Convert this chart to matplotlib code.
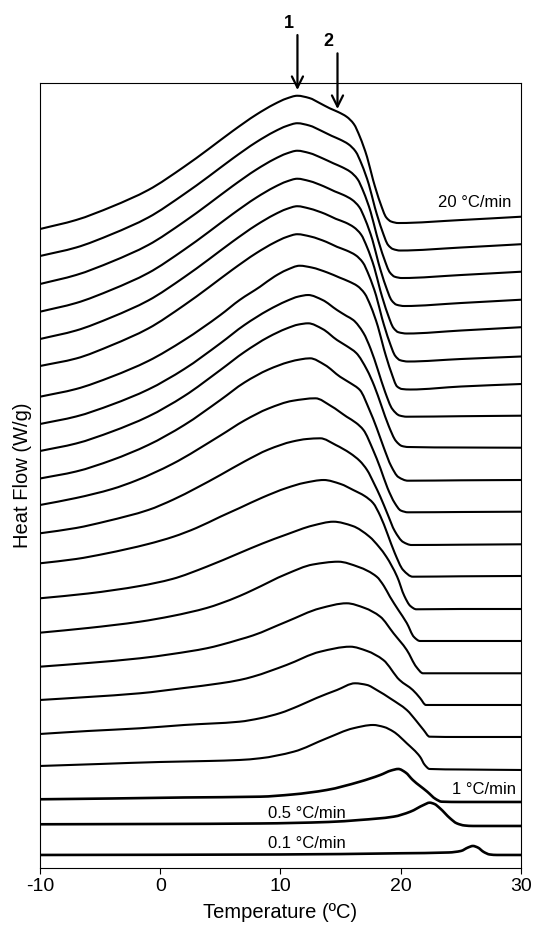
import numpy as np
import matplotlib
matplotlib.use("Agg")
import matplotlib.pyplot as plt
from matplotlib.path import Path
from matplotlib.patches import PathPatch

# DSC heating curves, stacked: (temperature degC, heat flow, arb. units)
rates = [20, 19, 18, 17, 16, 15, 14, 13, 12, 11, 10, 9, 8, 7, 6, 5, 4, 3, 2, 1, 0.5, 0.1]

hf_20 = [(-10, 6.39), (-7, 6.48), (-4, 6.615), (-1, 6.78), (2, 7.014), (4, 7.188), (6, 7.368),
         (8, 7.535), (9.5, 7.64), (10.5, 7.695), (11.4, 7.723), (12.4, 7.70), (13.3, 7.647),
         (14.1, 7.597), (14.8, 7.56), (15.5, 7.513), (16.1, 7.44), (16.6, 7.313), (17.2, 7.11),
         (17.7, 6.88), (18.3, 6.65), (18.8, 6.505), (19.2, 6.465), (19.8, 6.45), (25, 6.48), (30, 6.513)]
hf_19 = [(-10, 6.12), (-7, 6.205), (-4, 6.34), (-1, 6.505), (2, 6.74), (4, 6.913), (6, 7.093),
         (8, 7.26), (9.5, 7.365), (10.5, 7.42), (11.4, 7.448), (12.4, 7.425), (13.4, 7.372),
         (14.25, 7.322), (14.95, 7.285), (15.65, 7.238), (16.25, 7.165), (16.75, 7.038), (17.35, 6.835),
         (17.85, 6.605), (18.45, 6.375), (18.95, 6.23), (19.35, 6.19), (19.95, 6.175), (25, 6.205), (30, 6.238)]
hf_18 = [(-10, 5.84), (-7, 5.93), (-4, 6.065), (-1, 6.23), (2, 6.464), (4, 6.638), (6, 6.818),
         (8, 6.985), (9.5, 7.09), (10.5, 7.145), (11.4, 7.173), (12.4, 7.15), (13.5, 7.097),
         (14.4, 7.047), (15.1, 7.01), (15.8, 6.963), (16.4, 6.89), (16.9, 6.763), (17.5, 6.56),
         (18.0, 6.33), (18.6, 6.10), (19.1, 5.955), (19.5, 5.913), (20.1, 5.90), (25, 5.93), (30, 5.963)]
hf_17 = [(-10, 5.563), (-7, 5.65), (-4, 5.785), (-1, 5.95), (2, 6.184), (4, 6.358), (6, 6.538),
         (8, 6.705), (9.5, 6.81), (10.5, 6.865), (11.4, 6.893), (12.4, 6.87), (13.6, 6.817),
         (14.5, 6.767), (15.25, 6.73), (15.95, 6.683), (16.55, 6.61), (17.05, 6.483), (17.65, 6.28),
         (18.15, 6.05), (18.75, 5.82), (19.25, 5.675), (19.65, 5.633), (20.3, 5.62), (25, 5.65), (30, 5.683)]
hf_16 = [(-10, 5.29), (-7, 5.375), (-4, 5.51), (-1, 5.675), (2, 5.909), (4, 6.083), (6, 6.263),
         (8, 6.43), (9.5, 6.535), (10.5, 6.59), (11.4, 6.618), (12.4, 6.595), (13.7, 6.542),
         (14.6, 6.492), (15.4, 6.455), (16.1, 6.408), (16.7, 6.335), (17.2, 6.208), (17.8, 6.005),
         (18.3, 5.775), (18.9, 5.545), (19.4, 5.40), (19.8, 5.358), (20.5, 5.345), (25, 5.375), (30, 5.408)]
hf_15 = [(-10, 5.02), (-7, 5.095), (-4, 5.23), (-1, 5.395), (2, 5.629), (4, 5.803), (6, 5.983),
         (8, 6.15), (9.5, 6.255), (10.5, 6.31), (11.4, 6.338), (12.5, 6.315), (13.8, 6.262),
         (14.7, 6.212), (15.5, 6.175), (16.25, 6.128), (16.85, 6.055), (17.35, 5.928), (17.95, 5.725),
         (18.45, 5.495), (19.05, 5.265), (19.55, 5.12), (19.95, 5.078), (20.6, 5.065), (25, 5.09), (30, 5.115)]
hf_14 = [(-10, 4.713), (-7, 4.79), (-4, 4.915), (-1, 5.07), (2, 5.28), (5, 5.53), (6.6, 5.68),
         (8.3, 5.813), (9.5, 5.915), (10.5, 5.98), (11.6, 6.023), (12.6, 6.005), (13.9, 5.955),
         (14.9, 5.905), (15.7, 5.865), (16.4, 5.82), (17.0, 5.745), (17.5, 5.62), (18.1, 5.415),
         (18.6, 5.19), (19.2, 4.96), (19.7, 4.815), (20.1, 4.79), (20.8, 4.785), (25, 4.815), (30, 4.84)]
hf_13 = [(-10, 4.44), (-7, 4.515), (-4, 4.635), (-1, 4.785), (2, 4.99), (5, 5.247), (7, 5.43),
         (9, 5.58), (10.5, 5.67), (11.5, 5.715), (12.3, 5.73), (13.5, 5.68), (14.7, 5.58),
         (15.5, 5.52), (16.05, 5.48), (16.9, 5.35), (17.5, 5.19), (18.1, 4.98), (18.7, 4.76),
         (19.3, 4.59), (19.9, 4.525), (20.5, 4.513), (25, 4.518), (30, 4.523)]
hf_12 = [(-10, 4.17), (-7, 4.245), (-4, 4.365), (-1, 4.515), (2, 4.72), (5, 4.98), (7, 5.16),
         (9, 5.31), (10.5, 5.395), (11.5, 5.435), (12.3, 5.447), (13.5, 5.39), (14.7, 5.28),
         (15.5, 5.22), (16.3, 5.15), (17.2, 4.98), (17.8, 4.82), (18.4, 4.62), (19.0, 4.42),
         (19.6, 4.27), (20.1, 4.22), (20.6, 4.21), (25, 4.205), (30, 4.203)]
hf_11 = [(-10, 3.895), (-7, 3.965), (-4, 4.08), (-1, 4.23), (2, 4.43), (5, 4.68), (7, 4.855),
         (9, 4.985), (10.7, 5.06), (11.7, 5.087), (12.45, 5.097), (13.7, 5.03), (14.95, 4.913),
         (15.8, 4.85), (16.6, 4.78), (17.4, 4.58), (18.0, 4.40), (18.6, 4.20), (19.2, 4.02),
         (19.8, 3.91), (20.6, 3.873), (25, 3.877), (30, 3.88)]
hf_10 = [(-10, 3.63), (-7, 3.70), (-4, 3.79), (-2, 3.875), (1, 4.04), (5, 4.325), (7, 4.475),
         (9, 4.595), (11, 4.672), (12.9, 4.697), (14.2, 4.62), (15.5, 4.513), (16.3, 4.45),
         (16.9, 4.38), (17.7, 4.18), (18.3, 4.00), (18.9, 3.80), (19.5, 3.65), (20.0, 3.575),
         (20.6, 3.557), (25, 3.56), (30, 3.563)]
hf_9 = [(-10, 3.347), (-7, 3.40), (-4.45, 3.468), (-1, 3.58), (1.1, 3.685), (3, 3.80), (5, 3.93),
        (7, 4.065), (9, 4.185), (11, 4.265), (12.2, 4.29), (13.3, 4.297), (14.6, 4.23), (15.8, 4.147),
        (16.6, 4.07), (17.2, 3.98), (17.8, 3.84), (18.3, 3.713), (18.9, 3.54), (19.5, 3.37),
        (20.2, 3.26), (20.9, 3.23), (25, 3.233), (30, 3.237)]
hf_8 = [(-10, 3.047), (-7, 3.09), (-4.5, 3.145), (-1, 3.24), (1.1, 3.313), (3, 3.40), (5, 3.513),
        (6.6, 3.60), (8.5, 3.705), (10.5, 3.80), (12, 3.852), (13.6, 3.88), (15, 3.84), (16.05, 3.78),
        (17, 3.72), (17.7, 3.65), (18.3, 3.52), (18.9, 3.34), (19.5, 3.15), (20.2, 2.98),
        (21.0, 2.913), (25, 2.917), (30, 2.92)]
hf_7 = [(-10, 2.697), (-6, 2.745), (-1.7, 2.82), (1, 2.89), (3.86, 3.013), (6.6, 3.15), (8.5, 3.245),
        (10.5, 3.335), (12.7, 3.425), (14.4, 3.463), (16, 3.42), (17.4, 3.313), (18.2, 3.21),
        (18.8, 3.113), (19.7, 2.913), (20.3, 2.72), (20.8, 2.62), (21.3, 2.587), (25, 2.59), (30, 2.59)]
hf_6 = [(-10, 2.353), (-6, 2.40), (-1.7, 2.463), (1, 2.52), (3.86, 2.60), (5, 2.645), (6.6, 2.72),
        (7.7, 2.78), (10.5, 2.94), (12.7, 3.035), (14.8, 3.063), (16.5, 3.01), (18.0, 2.913),
        (18.6, 2.82), (19.1, 2.713), (19.8, 2.58), (20.5, 2.45), (21.1, 2.31), (21.6, 2.27),
        (25, 2.27), (30, 2.27)]
hf_5 = [(-10, 2.013), (-6, 2.05), (-1.7, 2.097), (1, 2.14), (3.86, 2.197), (5, 2.23), (6.6, 2.285),
        (7.7, 2.325), (10.5, 2.463), (13.3, 2.597), (15.5, 2.647), (17.0, 2.60), (18.3, 2.513),
        (19.4, 2.347), (20.5, 2.18), (21.3, 2.01), (21.85, 1.947), (25, 1.947), (30, 1.947)]
hf_4 = [(-10, 1.68), (-6, 1.71), (-1.7, 1.747), (2, 1.80), (5, 1.847), (6.6, 1.88), (7.7, 1.913),
        (10.5, 2.03), (13.3, 2.163), (15.8, 2.213), (17.2, 2.17), (18.55, 2.08), (19.9, 1.88),
        (21.0, 1.78), (21.6, 1.70), (22.1, 1.63), (25, 1.63), (30, 1.63)]
hf_3 = [(-10, 1.34), (-6, 1.37), (-1.7, 1.397), (2, 1.43), (6.6, 1.463), (8.3, 1.497), (10, 1.55),
        (11.5, 1.62), (13, 1.70), (14.7, 1.78), (16.2, 1.847), (17.2, 1.83), (18.0, 1.78),
        (19.2, 1.69), (20.5, 1.58), (21.3, 1.47), (21.9, 1.38), (22.4, 1.313), (25, 1.31), (30, 1.31)]
hf_2 = [(-10, 1.02), (-5, 1.04), (0, 1.06), (4, 1.07), (6.6, 1.08), (8.3, 1.097), (11.1, 1.163),
        (13.85, 1.297), (16.05, 1.397), (17.7, 1.43), (18.6, 1.41), (19.4, 1.363), (20.5, 1.247),
        (21.6, 1.113), (22.0, 1.03), (22.4, 0.99), (25, 0.985), (30, 0.98)]
hf_1 = [(-10, 0.687), (-4, 0.695), (2, 0.705), (8.3, 0.713), (11, 0.735), (13.85, 0.78),
        (16.6, 0.863), (18.3, 0.93), (19.2, 0.975), (19.8, 0.99), (20.4, 0.955), (21.0, 0.88),
        (22.2, 0.763), (22.9, 0.69), (23.4, 0.663), (25, 0.66), (30, 0.66)]
hf_0p5 = [(-10, 0.437), (0, 0.44), (8.3, 0.445), (14, 0.46), (16.6, 0.48), (19.4, 0.513),
          (20.8, 0.563), (21.9, 0.63), (22.4, 0.653), (22.8, 0.64), (23.26, 0.597), (24.1, 0.497),
          (24.65, 0.447), (25.3, 0.425), (26, 0.42), (30, 0.42)]
hf_0p1 = [(-10, 0.13), (10, 0.135), (20, 0.147), (24, 0.155), (25, 0.17), (25.6, 0.205),
          (26.0, 0.22), (26.4, 0.205), (26.9, 0.16), (27.4, 0.135), (28, 0.13), (30, 0.13)]

curves = [hf_20, hf_19, hf_18, hf_17, hf_16, hf_15, hf_14, hf_13, hf_12, hf_11, hf_10,
          hf_9, hf_8, hf_7, hf_6, hf_5, hf_4, hf_3, hf_2, hf_1, hf_0p5, hf_0p1]

x_ticks = [-10, 0, 10, 20, 30]


def smooth_path(pts):
    # join the read points with monotone cubic segments (drawn as Bezier curves)
    t = np.array([p[0] for p in pts], float)
    y = np.array([p[1] for p in pts], float)
    h = np.diff(t)
    d = np.diff(y) / h
    m = np.zeros_like(y)
    m[0], m[-1] = d[0], d[-1]
    for i in range(1, len(y) - 1):
        if d[i - 1] * d[i] <= 0:
            m[i] = 0.0
        else:
            w1 = 2 * h[i] + h[i - 1]
            w2 = h[i] + 2 * h[i - 1]
            m[i] = (w1 + w2) / (w1 / d[i - 1] + w2 / d[i])
    verts = [(t[0], y[0])]
    codes = [Path.MOVETO]
    for i in range(len(h)):
        verts += [(t[i] + h[i] / 3, y[i] + m[i] * h[i] / 3),
                  (t[i + 1] - h[i] / 3, y[i + 1] - m[i + 1] * h[i] / 3),
                  (t[i + 1], y[i + 1])]
        codes += [Path.CURVE4] * 3
    return Path(verts, codes)


plt.rcParams['font.family'] = ['Liberation Sans', 'DejaVu Sans']
plt.rcParams['axes.unicode_minus'] = False

fig = plt.figure(figsize=(5.33, 9.33), dpi=100)
ax = fig.add_axes([0.075, 0.0697, 0.9025, 0.8413])

for rate, pts in zip(rates, curves):
    lw = 1.9 if rate <= 1 else 1.5
    ax.add_patch(PathPatch(smooth_path(pts), fill=False, edgecolor='black', lw=lw,
                           joinstyle='round', capstyle='butt'))

ax.set_xlim(-10, 30)
ax.set_ylim(0, 7.85)
ax.set_xticks(x_ticks)
ax.set_xticklabels([str(v) for v in x_ticks])
ax.set_yticks([])
ax.tick_params(axis='x', direction='out', length=4, width=0.8, labelsize=14, pad=3)
for s in ax.spines.values():
    s.set_linewidth(0.8)

ax.set_xlabel('Temperature (ºC)', fontsize=14.5, labelpad=6)
ax.set_ylabel('Heat Flow (W/g)', fontsize=14.5)
ax.yaxis.set_label_coords(-0.017, 0.5)

# rate labels
ax.text(29.23, 6.66, '20 °C/min', ha='right', va='center', fontsize=12)
ax.text(29.55, 0.78, '1 °C/min', ha='right', va='center', fontsize=12)
ax.text(8.97, 0.54, '0.5 °C/min', ha='left', va='center', fontsize=12)
ax.text(8.97, 0.247, '0.1 °C/min', ha='left', va='center', fontsize=12)

# peak markers
arrow_kw = dict(arrowstyle='->,head_length=0.5,head_width=0.25', lw=1.6, color='black',
                shrinkA=0, shrinkB=0, mutation_scale=16)
ax.annotate('', xy=(11.41, 7.78), xytext=(11.41, 8.33), arrowprops=arrow_kw, annotation_clip=False)
ax.annotate('', xy=(14.74, 7.59), xytext=(14.74, 8.147), arrowprops=arrow_kw, annotation_clip=False)
ax.text(10.71, 8.45, '1', fontweight='bold', fontsize=13, ha='center', va='center')
ax.text(13.97, 8.27, '2', fontweight='bold', fontsize=13, ha='center', va='center')

fig.savefig('out.png', dpi=100, facecolor='white')
